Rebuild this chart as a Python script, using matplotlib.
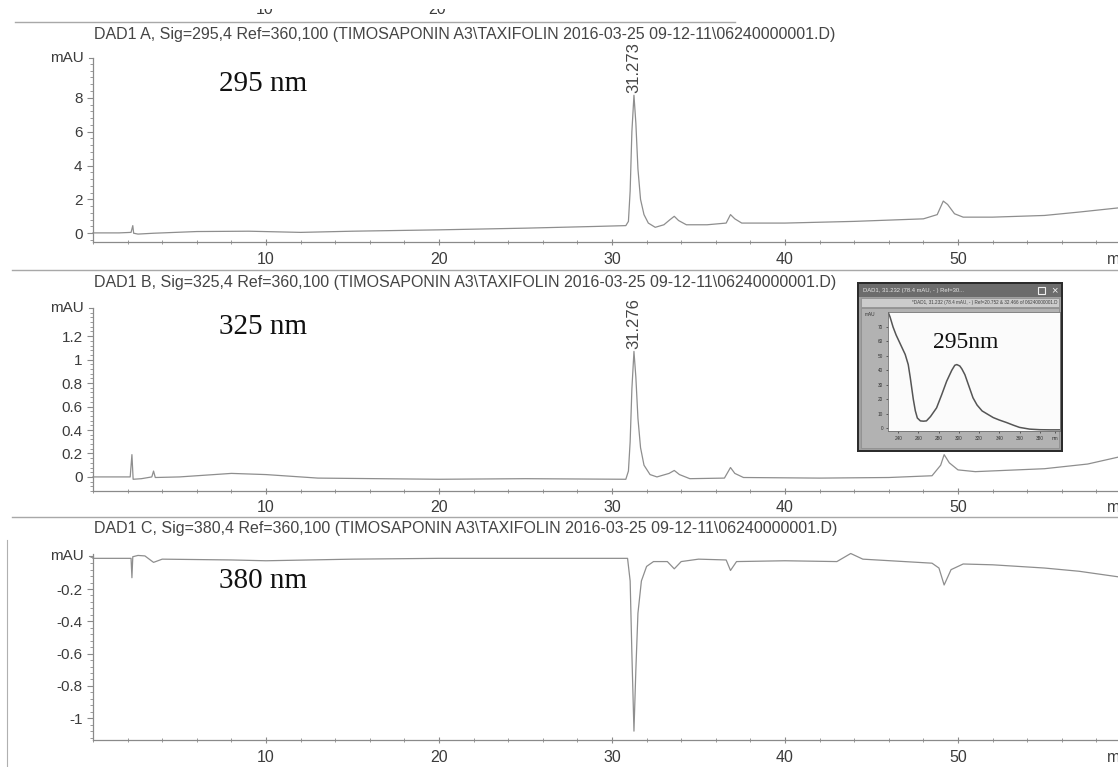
import matplotlib
matplotlib.use("Agg")
import matplotlib.pyplot as plt
from matplotlib.patches import Rectangle
from matplotlib.lines import Line2D
from matplotlib.ticker import MultipleLocator
from matplotlib.transforms import blended_transform_factory

# ---------------- data ----------------
time_a = [0.0, 1.5, 2.2, 2.3, 2.35, 2.6, 3.5, 6, 9, 12, 15, 20, 25, 29, 30.8, 30.95, 31.05,
          31.15, 31.27, 31.38, 31.5, 31.65, 31.85, 32.1, 32.5, 33.0, 33.35, 33.6, 33.85, 34.3,
          35.5, 36.6, 36.85, 37.1, 37.5, 40, 44, 48, 48.8, 49.15, 49.4, 49.8, 50.3, 52, 55, 57, 59.3]
sig_a = [0.02, 0.02, 0.05, 0.45, 0.0, -0.05, 0.0, 0.1, 0.12, 0.05, 0.12, 0.2, 0.3, 0.4, 0.45, 0.7, 2.5,
         6.0, 8.15, 6.5, 3.8, 2.0, 1.1, 0.6, 0.35, 0.5, 0.8, 1.0, 0.75, 0.5,
         0.5, 0.6, 1.1, 0.85, 0.6, 0.6, 0.7, 0.85, 1.1, 1.9, 1.7, 1.15, 0.95, 0.95, 1.05, 1.25, 1.5]

time_b = [0.0, 2.15, 2.25, 2.32, 2.8, 3.4, 3.5, 3.6, 5, 8, 10, 13, 20, 25, 30.8, 30.95, 31.05,
          31.15, 31.27, 31.38, 31.5, 31.65, 31.85, 32.2, 32.6, 33.3, 33.6, 33.9, 34.5, 36.5,
          36.85, 37.1, 37.6, 42, 46, 48.5, 49.0, 49.2, 49.5, 50.0, 51, 55, 57.5, 59.3]
sig_b = [0.0, 0.0, 0.19, -0.02, -0.015, 0.0, 0.05, -0.005, 0.0, 0.03, 0.02, -0.01, -0.02, -0.015, -0.02, 0.05, 0.3,
         0.75, 1.07, 0.85, 0.5, 0.25, 0.1, 0.02, 0.0, 0.03, 0.055, 0.02, -0.015, -0.01,
         0.08, 0.03, -0.005, -0.01, -0.005, 0.01, 0.1, 0.19, 0.12, 0.06, 0.045, 0.07, 0.11, 0.17]

time_c = [0.0, 2.2, 2.25, 2.3, 2.6, 3.0, 3.5, 4.0, 8, 10, 15, 20, 25, 30.9, 31.05, 31.15, 31.27,
          31.38, 31.5, 31.7, 32.0, 32.4, 33.2, 33.6, 34.0, 35, 36.6, 36.85, 37.2, 40, 43, 43.8,
          44.5, 48.5, 48.9, 49.2, 49.6, 50.3, 52, 55, 57, 59.3]
sig_c = [-0.01, -0.01, -0.13, 0.0, 0.008, 0.005, -0.035, -0.015, -0.02, -0.025, -0.015, -0.01, -0.01, -0.01, -0.15, -0.6, -1.08,
         -0.7, -0.35, -0.15, -0.06, -0.03, -0.03, -0.075, -0.03, -0.015, -0.02, -0.085, -0.03, -0.025, -0.03, 0.02,
         -0.015, -0.04, -0.07, -0.175, -0.08, -0.045, -0.05, -0.07, -0.09, -0.125]

peak_rt = 31.27
peak_labels = ["31.273", "31.276"]
peak_heights = [8.15, 1.07]

titles = [
    "DAD1 A, Sig=295,4 Ref=360,100 (TIMOSAPONIN A3\\TAXIFOLIN 2016-03-25 09-12-11\\06240000001.D)",
    "DAD1 B, Sig=325,4 Ref=360,100 (TIMOSAPONIN A3\\TAXIFOLIN 2016-03-25 09-12-11\\06240000001.D)",
    "DAD1 C, Sig=380,4 Ref=360,100 (TIMOSAPONIN A3\\TAXIFOLIN 2016-03-25 09-12-11\\06240000001.D)",
]
wave_labels = ["295 nm", "325 nm", "380 nm"]
yticks_a = [0, 2, 4, 6, 8]
yticks_b = [0, 0.2, 0.4, 0.6, 0.8, 1, 1.2]
yticks_c = [-1, -0.8, -0.6, -0.4, -0.2]
xticks = [10, 20, 30, 40, 50]

spec_wl = [230, 232, 235, 238, 243, 247, 250, 252, 255, 257, 259, 262, 265, 268, 272, 278, 283, 288,
           293, 296, 298, 301, 303, 306, 310, 314, 318, 323, 328, 334, 340, 347, 354, 360, 370, 380, 390, 400]
spec_abs = [80.5, 77, 70, 64.5, 57, 51, 44, 35, 20, 12, 7, 5, 4.8, 5, 8, 14, 23, 32.5,
            40, 43.5, 44, 43, 41, 37, 29, 21, 16, 11.9, 9.8, 7.3, 5.6, 3.9, 2.0, 0.5, -0.7, -1.1, -1.2, -1.2]
spec_yticks = [0, 10, 20, 30, 40, 50, 60, 70]
spec_xticks = [240, 260, 280, 300, 320, 340, 360, 380]

# ---------------- figure ----------------
W, H = 1118, 767
fig = plt.figure(figsize=(W / 100, H / 100), dpi=100)
fig.patch.set_facecolor("white")

SANS = "Liberation Sans"
SERIF = "Liberation Serif"
LINE = "#8e8e8e"
AXC = "#8a8a8a"
TXT = "#3c3c3c"


def rect(l, t, r, b):
    return [l / W, 1 - b / H, (r - l) / W, (b - t) / H]


def fx(px):
    return px / W


def fy(py):
    return 1 - py / H


panels = [
    dict(t=time_a, s=sig_a, box=(93, 58, 1118, 241.7), ylim=(-0.5, 10.35), yt=yticks_a,
         ylab=["0", "2", "4", "6", "8"], minor=0.4, title_y=34, wave_y=84, mau_y=58, xl_y=260),
    dict(t=time_b, s=sig_b, box=(93, 308, 1118, 491), ylim=(-0.12, 1.44), yt=yticks_b,
         ylab=["0", "0.2", "0.4", "0.6", "0.8", "1", "1.2"], minor=0.04, title_y=283, wave_y=327, mau_y=308, xl_y=508),
    dict(t=time_c, s=sig_c, box=(93, 553.5, 1118, 740), ylim=(-1.135, 0.02), yt=yticks_c,
         ylab=["-1", "-0.8", "-0.6", "-0.4", "-0.2"], minor=0.04, title_y=529, wave_y=581, mau_y=556, xl_y=757),
]

axes = []
for i, p in enumerate(panels):
    ax = fig.add_axes(rect(*p["box"]))
    ax.set_facecolor("none")
    ax.plot(p["t"], p["s"], color=LINE, lw=0.9, clip_on=False)
    ax.set_xlim(0, 59.25)
    ax.set_ylim(*p["ylim"])
    for side in ("top", "right"):
        ax.spines[side].set_visible(False)
    for side in ("left", "bottom"):
        ax.spines[side].set_color(AXC)
        ax.spines[side].set_linewidth(0.9)
    ax.set_yticks(p["yt"])
    ax.set_yticklabels(p["ylab"], fontfamily=SANS, fontsize=11, color=TXT)
    ax.yaxis.set_minor_locator(MultipleLocator(p["minor"]))
    ax.set_xticks(xticks)
    ax.set_xticklabels([])
    ax.xaxis.set_minor_locator(MultipleLocator(2))
    ax.tick_params(axis="y", which="major", length=4, width=0.8, color=AXC, pad=3.5)
    ax.tick_params(axis="y", which="minor", length=2, width=0.6, color=AXC)
    ax.tick_params(axis="x", which="major", length=4, width=0.8, color=AXC, direction="inout")
    ax.tick_params(axis="x", which="minor", length=3, width=0.6, color=AXC, direction="inout")
    # x tick labels placed at the reference row height
    tr = blended_transform_factory(ax.transData, fig.transFigure)
    for v in xticks:
        ax.text(v, fy(p["xl_y"]), str(v), transform=tr, ha="center", va="center",
                fontfamily=SANS, fontsize=11.5, color=TXT, clip_on=False)
    # mAU label at top of y axis
    fig.text(fx(84), fy(p["mau_y"]), "mAU", ha="right", va="center",
             fontfamily=SANS, fontsize=11, color=TXT)
    fig.add_artist(Line2D([fx(89), fx(93)], [fy(p["mau_y"]), fy(p["mau_y"])], color=AXC, lw=0.8))
    # min label (cut at right edge, as in the scan)
    fig.text(fx(1107), fy(p["xl_y"]), "min", ha="left", va="center",
             fontfamily=SANS, fontsize=11.5, color=TXT)
    # title
    fig.text(fx(94), fy(p["title_y"]), titles[i], ha="left", va="center",
             fontfamily=SANS, fontsize=11.5, color="#454545")
    # wavelength label
    fig.text(fx(219), fy(p["wave_y"]), wave_labels[i], ha="left", va="center",
             fontfamily=SERIF, fontsize=21, color="#111111")
    axes.append(ax)

# peak labels
for ax, lab, h in zip(axes[:2], peak_labels, peak_heights):
    ax.annotate(lab, xy=(peak_rt, h), xytext=(0, 1.5), textcoords="offset points",
                rotation=90, ha="center", va="bottom", fontfamily=SANS, fontsize=12, color="#454545")

# separator lines and cut-off labels from the page above
fig.add_artist(Line2D([fx(15), fx(735)], [fy(22), fy(22)], color="#a8a8a8", lw=1.0))
fig.add_artist(Line2D([fx(12), fx(1118)], [fy(270), fy(270)], color="#a8a8a8", lw=1.0))
fig.add_artist(Line2D([fx(12), fx(1118)], [fy(517), fy(517)], color="#a8a8a8", lw=1.0))
fig.add_artist(Line2D([fx(7), fx(7)], [fy(540), fy(767)], color="#b0b0b0", lw=0.8))
for x, s in ((265, "10"), (437, "20")):
    fig.text(fx(x), fy(10), s, ha="center", va="center", fontfamily=SANS, fontsize=11.5, color=TXT, zorder=1)
fig.add_artist(Rectangle((0, fy(9)), 1, 1 - fy(9), transform=fig.transFigure, fc="white", ec="none", zorder=5))

# ---------------- inset spectrum window ----------------
win = fig.add_axes(rect(857, 282, 1063, 452))
win.set_xlim(0, 206)
win.set_ylim(170, 0)
win.axis("off")
win.add_patch(Rectangle((0, 0), 206, 170, fc="#2c2c2c", ec="none"))
win.add_patch(Rectangle((2, 2), 202, 166, fc="#a0a0a0", ec="none"))
win.add_patch(Rectangle((2, 2), 202, 13, fc="#6c6c6c", ec="none"))
win.text(6, 8.5, "DAD1, 31.232 (78.4 mAU, - ) Ref=30...", fontsize=4.2, color="#e6e6e6",
         va="center", ha="left", fontfamily=SANS)
win.add_patch(Rectangle((181, 4.5), 7, 7, fc="none", ec="#f0f0f0", lw=0.8))
win.text(197, 8.5, "×", fontsize=8, color="#f4f4f4", va="center", ha="center", fontfamily=SANS)
win.add_patch(Rectangle((4, 16), 198, 9, fc="#cccccc", ec="#8a8a8a", lw=0.5))
win.text(200, 20.5, "*DAD1, 31.232 (78.4 mAU, - ) Ref=20.752 & 32.466 of 06240000001.D",
         fontsize=3.3, color="#404040", va="center", ha="right", fontfamily=SANS)
win.add_patch(Rectangle((4, 26), 198, 140, fc="#b2b2b2", ec="#8a8a8a", lw=0.5))

spec = fig.add_axes(rect(888, 312, 1060, 431))
spec.set_facecolor("#fbfbfb")
spec.plot(spec_wl, spec_abs, color="#555555", lw=1.1)
spec.set_xlim(230, 400)
spec.set_ylim(-2, 80.4)
spec.set_yticks(spec_yticks)
spec.set_yticklabels([str(v) for v in spec_yticks], fontsize=3.4, color="#333333", fontfamily=SANS)
spec.set_xticks(spec_xticks + [395])
spec.set_xticklabels([str(v) for v in spec_xticks] + ["nm"], fontsize=3.4, color="#333333", fontfamily=SANS)
spec.tick_params(length=1.5, width=0.5, pad=2, colors="#333333")
for s in spec.spines.values():
    s.set_color("#707070")
    s.set_linewidth(0.6)
fig.text(fx(870), fy(314), "mAU", fontsize=3.4, color="#333333", ha="center", va="center", fontfamily=SANS)
spec.text(0.26, 0.74, "295nm", transform=spec.transAxes, fontfamily=SERIF, fontsize=17,
          color="#111111", ha="left", va="center")

fig.savefig("out.png", dpi=100, facecolor="white")
